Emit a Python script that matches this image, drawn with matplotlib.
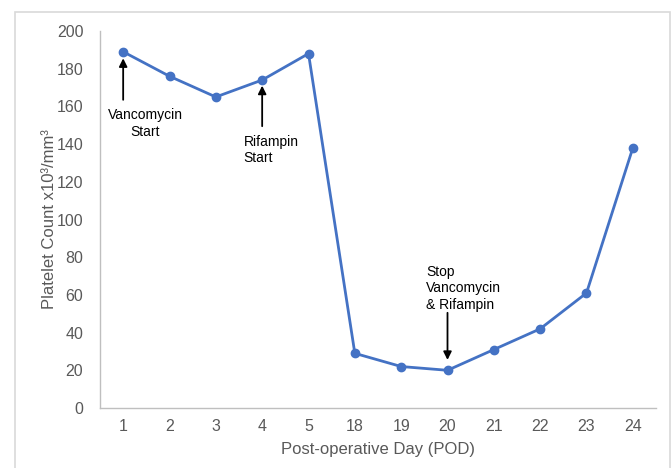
import matplotlib.pyplot as plt
from matplotlib.patches import Rectangle

plt.rcParams['font.family'] = ['Liberation Sans', 'DejaVu Sans']

days = ['1', '2', '3', '4', '5', '18', '19', '20', '21', '22', '23', '24']
platelets = [189, 176, 165, 174, 188, 29, 22, 20, 31, 42, 61, 138]

W, H = 672, 468
fig = plt.figure(figsize=(W / 100, H / 100), dpi=100)
ax = fig.add_axes([100 / W, (H - 408) / H, 556 / W, 377 / H])

# outer chart frame (Excel-style)
fig.patches.append(Rectangle((14.5 / W, -0.01), (670 - 14.5) / W, (H - 11.5) / H + 0.01,
                             transform=fig.transFigure, fill=False,
                             edgecolor='#d9d9d9', linewidth=1.2))

x = list(range(len(days)))
ax.plot(x, platelets, color='#4472c4', linewidth=2, marker='o', markersize=6)

ax.set_xlim(-0.5, len(days) - 0.5)
ax.set_ylim(0, 200)
ax.set_yticks(range(0, 201, 20))
ax.set_xticks(x)
ax.set_xticklabels(days)

gray = '#595959'
ax.tick_params(length=0, labelsize=11.5, labelcolor=gray, pad=8)
ax.tick_params(axis='y', pad=12)
for s in ['top', 'right']:
    ax.spines[s].set_visible(False)
for s in ['left', 'bottom']:
    ax.spines[s].set_color('#bfbfbf')
    ax.spines[s].set_linewidth(1)

ax.set_xlabel('Post-operative Day (POD)', fontsize=12, color=gray, labelpad=6)
ax.set_ylabel('Platelet Count x10³/mm³', fontsize=12, color=gray, labelpad=0)

arrow = dict(arrowstyle='-|>', color='black', lw=1.3, mutation_scale=12, shrinkA=0, shrinkB=0)
ax.annotate('', xy=(0, 185.5), xytext=(0, 163.5), arrowprops=arrow)
ax.text(0.47, 159, 'Vancomycin\nStart', ha='center', va='top', fontsize=10, linespacing=1.25)

ax.annotate('', xy=(3, 171), xytext=(3, 149.5), arrowprops=arrow)
ax.text(2.6, 145, 'Rifampin\nStart', ha='left', va='top', fontsize=10, linespacing=1.25)

ax.annotate('', xy=(7, 25.5), xytext=(7, 50.5), arrowprops=arrow)
ax.text(6.54, 76, 'Stop\nVancomycin\n& Rifampin', ha='left', va='top', fontsize=10, linespacing=1.25)

fig.savefig('out.png', dpi=100)
